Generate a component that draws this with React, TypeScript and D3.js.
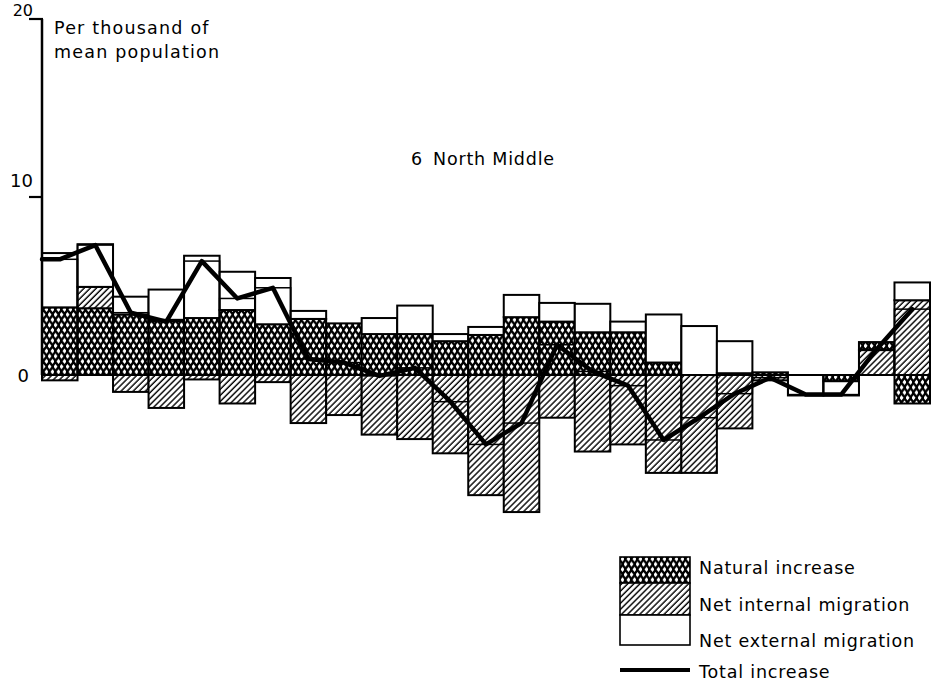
import React from 'react';
import * as d3 from 'd3';

// Bars (unlabelled periods in the source)
const periods = [1, 2, 3, 4, 5, 6, 7, 8, 9, 10, 11, 12, 13, 14, 15, 16, 17, 18, 19, 20, 21, 22, 23, 24, 25];
const naturalIncrease = [3.8, 3.75, 3.4, 3.1, 3.2, 3.65, 2.85, 3.15, 2.9, 2.3, 2.3, 1.9, 2.25, 3.25, 3.0, 2.4, 2.4, 0.7, 0, 0.1, 0.15, 0, -0.35, 0.45, -1.6];
const netInternal = [-0.3, 1.2, -0.95, -1.85, -0.25, -1.6, -0.4, -2.7, -2.25, -3.35, -3.6, -4.4, -6.75, -7.7, -2.4, -4.3, -3.9, -5.5, -5.5, -3.0, -0.3, 0, 0, 1.4, 4.2];
const netExternal = [3.05, 2.4, 1.0, 1.7, 3.5, 2.15, 2.6, 0.45, 0, 0.9, 1.6, 0.4, 0.45, 1.25, 1.05, 1.6, 0.6, 2.7, 2.75, 1.8, 0, -1.15, -0.8, 0, 1.0];
const totalIncrease = [6.5, 7.3, 3.5, 3.0, 6.4, 4.3, 4.9, 0.9, 0.7, -0.05, 0.4, -1.5, -3.9, -2.7, 1.7, 0.2, -0.6, -3.65, -2.4, -1.05, -0.15, -1.1, -1.1, 1.45, 3.7];
// periods where internal migration is stacked beneath natural increase
const internalFirst = [24];
const yTicks = [0, 10, 20];
const legendItems = ['Natural increase', 'Net internal migration', 'Net external migration', 'Total increase'];

const W = 939;
const H = 689;
const FONT = 'DejaVu Sans, sans-serif';

export default function App() {
  const x = d3.scaleBand<number>().domain(periods).range([42, 930]).padding(0);
  const y = d3.scaleLinear().domain([0, 20]).range([375, 19]);
  const bw = x.bandwidth();

  const fills: Record<string, string> = {
    nat: 'url(#cross)',
    int: 'url(#hatch)',
    ext: '#fff',
  };

  const segments: { key: string; x: number; y0: number; y1: number; fill: string }[] = [];
  periods.forEach((p, i) => {
    const vals: Record<string, number> = {
      nat: naturalIncrease[i],
      int: netInternal[i],
      ext: netExternal[i],
    };
    const order = internalFirst.includes(p) ? ['int', 'nat', 'ext'] : ['nat', 'int', 'ext'];
    let pos = 0;
    let neg = 0;
    order.forEach((k) => {
      const v = vals[k];
      if (v > 0) {
        segments.push({ key: `${p}-${k}`, x: x(p)!, y0: pos, y1: pos + v, fill: fills[k] });
        pos += v;
      } else if (v < 0) {
        segments.push({ key: `${p}-${k}`, x: x(p)!, y0: neg, y1: neg + v, fill: fills[k] });
        neg += v;
      }
    });
  });

  const linePts: [number, number][] = [
    [x(periods[0])!, y(totalIncrease[0])],
    ...totalIncrease.map((d, i) => [x(periods[i])! + bw / 2, y(d)] as [number, number]),
  ];
  const line = d3.line();

  const legendX = 620;
  const legendW = 70;

  const pw = 6;
  const ph = 10.4;
  const hx = 2.0;
  const hy = 2.5;
  const diamond = (cx: number, cy: number) =>
    `M${cx - hx},${cy} L${cx},${cy - hy} L${cx + hx},${cy} L${cx},${cy + hy} Z`;

  return (
    <svg width={W} height={H} style={{ position: 'absolute', left: 0, top: 0, background: '#fff' }}>
      <defs>
        <pattern id="cross" width={pw} height={ph} patternUnits="userSpaceOnUse">
          <rect width={pw} height={ph} fill="#000" />
          <path d={diamond(pw * 0.25, ph * 0.25) + ' ' + diamond(pw * 0.75, ph * 0.75)} fill="#fff" />
        </pattern>
        <pattern id="hatch" width={4.3} height={4.3} patternUnits="userSpaceOnUse" patternTransform="rotate(45)">
          <rect width={4.3} height={4.3} fill="#fff" />
          <line x1={1} y1={0} x2={1} y2={4.3} stroke="#000" strokeWidth={1.4} />
        </pattern>
      </defs>

      {/* bars */}
      {segments.map((s) => (
        <rect
          key={s.key}
          x={s.x}
          width={bw}
          y={y(Math.max(s.y0, s.y1))}
          height={Math.abs(y(s.y0) - y(s.y1))}
          fill={s.fill}
          stroke="#000"
          strokeWidth={2}
        />
      ))}

      {/* total level outlines */}
      {periods.map((p, i) => (
        <rect
          key={`t-${p}`}
          x={x(p)!}
          width={bw}
          y={y(Math.max(0, totalIncrease[i]))}
          height={Math.abs(y(0) - y(totalIncrease[i]))}
          fill="none"
          stroke="#000"
          strokeWidth={1.5}
        />
      ))}

      {/* zero line */}
      <line x1={42} x2={930} y1={y(0)} y2={y(0)} stroke="#000" strokeWidth={1.8} />

      {/* total increase line */}
      <path
        d={line(linePts) || ''}
        fill="none"
        stroke="#000"
        strokeWidth={4.5}
        strokeLinejoin="round"
        strokeLinecap="round"
      />

      {/* y axis */}
      <line x1={42} x2={42} y1={y(20)} y2={y(0)} stroke="#000" strokeWidth={2.5} />
      {yTicks
        .filter((t) => t > 0)
        .map((t) => (
          <line key={`tk-${t}`} x1={29} x2={43} y1={y(t)} y2={y(t)} stroke="#000" strokeWidth={2.2} />
        ))}
      {yTicks.map((t) => (
        <text
          key={`tl-${t}`}
          x={t === 0 ? 29 : 33}
          y={t === 0 ? y(t) + 7 : t === 20 ? 16 : y(t) - 10}
          textAnchor="end"
          fontFamily={FONT}
          fontSize={t === 20 ? 16 : 18}
          fill="#000"
        >
          {t}
        </text>
      ))}

      <text x={54} y={34} fontFamily={FONT} fontSize={17.5} letterSpacing={1.2} fill="#000">
        Per thousand of
      </text>
      <text x={54} y={58} fontFamily={FONT} fontSize={17.5} letterSpacing={1.2} fill="#000">
        mean population
      </text>

      <text x={411} y={165} fontFamily={FONT} fontSize={17.5} letterSpacing={0.8} fill="#000">
        6
      </text>
      <text x={433} y={165} fontFamily={FONT} fontSize={17.5} letterSpacing={0.8} fill="#000">
        North Middle
      </text>

      {/* legend */}
      <rect x={legendX} y={557} width={legendW} height={26} fill="url(#cross)" stroke="#000" strokeWidth={1.6} />
      <rect x={legendX} y={583} width={legendW} height={32} fill="url(#hatch)" stroke="#000" strokeWidth={1.6} />
      <rect x={legendX} y={615} width={legendW} height={30} fill="#fff" stroke="#000" strokeWidth={1.6} />
      <line x1={legendX} x2={legendX + legendW} y1={670} y2={670} stroke="#000" strokeWidth={4} />
      {legendItems.map((t, i) => (
        <text
          key={t}
          x={699}
          y={[574, 611, 647, 678][i]}
          fontFamily={FONT}
          fontSize={17.5}
          letterSpacing={0.8}
          fill="#000"
        >
          {t}
        </text>
      ))}
    </svg>
  );
}
